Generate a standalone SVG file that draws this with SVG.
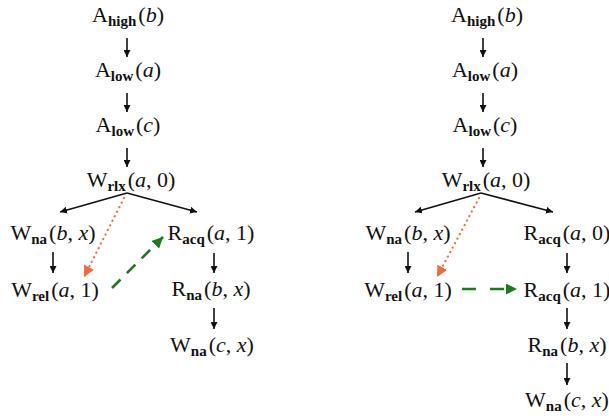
<svg xmlns="http://www.w3.org/2000/svg" width="609" height="416" viewBox="0 0 609 416">
<defs>
<style>
text{font-family:"Liberation Serif","DejaVu Serif",serif;font-size:22px;fill:#111;text-anchor:middle}
.s{font-weight:bold;font-size:15px}
.v{font-style:italic}
.e{stroke:#111;stroke-width:1.6;fill:none}
.rf{stroke:#f26b3a;stroke-width:2.2;fill:none;stroke-dasharray:0.1 5;stroke-linecap:round}
.sw{stroke:#1e7a1e;stroke-width:2.6;fill:none;stroke-dasharray:12 9}
</style>
<marker id="ah" viewBox="0 0 10 10" refX="10" refY="5" markerWidth="7" markerHeight="7" markerUnits="userSpaceOnUse" orient="auto"><path d="M0,0 L10,5 L0,10 z" fill="#111"/></marker>
<marker id="ao" viewBox="0 0 10 10" refX="10" refY="5" markerWidth="11" markerHeight="11" markerUnits="userSpaceOnUse" orient="auto"><path d="M0,0 L10,5 L0,10 z" fill="#f26b3a"/></marker>
<marker id="ag" viewBox="0 0 10 10" refX="10" refY="5" markerWidth="11" markerHeight="11" markerUnits="userSpaceOnUse" orient="auto"><path d="M0,0 L10,5 L0,10 z" fill="#1e7a1e"/></marker>
</defs>
<g id="L-ah"><text x="128" y="22">A<tspan class="s" dy="4">high</tspan><tspan dx="2" dy="-4">(</tspan><tspan class="v">b</tspan>)</text></g>
<g id="L-al1"><text x="128" y="77">A<tspan class="s" dy="4">low</tspan><tspan dx="2" dy="-4">(</tspan><tspan class="v">a</tspan>)</text></g>
<g id="L-al2"><text x="128" y="132">A<tspan class="s" dy="4">low</tspan><tspan dx="2" dy="-4">(</tspan><tspan class="v">c</tspan>)</text></g>
<g id="L-wrlx"><text x="131" y="187">W<tspan class="s" dy="4">rlx</tspan><tspan dx="2" dy="-4">(</tspan><tspan class="v">a</tspan>, 0)</text></g>
<g id="L-wna1"><text x="53" y="240">W<tspan class="s" dy="4">na</tspan><tspan dx="2" dy="-4">(</tspan><tspan class="v">b</tspan>, <tspan class="v">x</tspan>)</text></g>
<g id="L-wrel"><text x="55" y="297">W<tspan class="s" dy="4">rel</tspan><tspan dx="2" dy="-4">(</tspan><tspan class="v">a</tspan>, 1)</text></g>
<g id="L-racq"><text x="211" y="240">R<tspan class="s" dy="4">acq</tspan><tspan dx="2" dy="-4">(</tspan><tspan class="v">a</tspan>, 1)</text></g>
<g id="L-rna"><text x="211" y="296">R<tspan class="s" dy="4">na</tspan><tspan dx="2" dy="-4">(</tspan><tspan class="v">b</tspan>, <tspan class="v">x</tspan>)</text></g>
<g id="L-wna2"><text x="212" y="352">W<tspan class="s" dy="4">na</tspan><tspan dx="2" dy="-4">(</tspan><tspan class="v">c</tspan>, <tspan class="v">x</tspan>)</text></g>

<g id="R-ah"><text x="487" y="22">A<tspan class="s" dy="4">high</tspan><tspan dx="2" dy="-4">(</tspan><tspan class="v">b</tspan>)</text></g>
<g id="R-al1"><text x="485" y="77">A<tspan class="s" dy="4">low</tspan><tspan dx="2" dy="-4">(</tspan><tspan class="v">a</tspan>)</text></g>
<g id="R-al2"><text x="485" y="132">A<tspan class="s" dy="4">low</tspan><tspan dx="2" dy="-4">(</tspan><tspan class="v">c</tspan>)</text></g>
<g id="R-wrlx"><text x="486" y="187">W<tspan class="s" dy="4">rlx</tspan><tspan dx="2" dy="-4">(</tspan><tspan class="v">a</tspan>, 0)</text></g>
<g id="R-wna1"><text x="408" y="240">W<tspan class="s" dy="4">na</tspan><tspan dx="2" dy="-4">(</tspan><tspan class="v">b</tspan>, <tspan class="v">x</tspan>)</text></g>
<g id="R-wrel"><text x="408" y="297">W<tspan class="s" dy="4">rel</tspan><tspan dx="2" dy="-4">(</tspan><tspan class="v">a</tspan>, 1)</text></g>
<g id="R-racq0"><text x="567" y="240">R<tspan class="s" dy="4">acq</tspan><tspan dx="2" dy="-4">(</tspan><tspan class="v">a</tspan>, 0)</text></g>
<g id="R-racq1"><text x="567" y="297">R<tspan class="s" dy="4">acq</tspan><tspan dx="2" dy="-4">(</tspan><tspan class="v">a</tspan>, 1)</text></g>
<g id="R-rna"><text x="567" y="352">R<tspan class="s" dy="4">na</tspan><tspan dx="2" dy="-4">(</tspan><tspan class="v">b</tspan>, <tspan class="v">x</tspan>)</text></g>
<g id="R-wna2"><text x="567" y="407">W<tspan class="s" dy="4">na</tspan><tspan dx="2" dy="-4">(</tspan><tspan class="v">c</tspan>, <tspan class="v">x</tspan>)</text></g>

<g id="connectors">
<line class="e" x1="127" y1="38" x2="127" y2="57" marker-end="url(#ah)"/>
<line class="e" x1="127" y1="93" x2="127" y2="112" marker-end="url(#ah)"/>
<line class="e" x1="127" y1="148" x2="127" y2="167" marker-end="url(#ah)"/>
<line class="e" x1="127" y1="193" x2="60" y2="212" marker-end="url(#ah)"/>
<line class="e" x1="127" y1="193" x2="197" y2="212" marker-end="url(#ah)"/>
<line class="e" x1="53" y1="252" x2="53" y2="273" marker-end="url(#ah)"/>
<line class="e" x1="214" y1="253" x2="214" y2="273" marker-end="url(#ah)"/>
<line class="e" x1="214" y1="308" x2="214" y2="329" marker-end="url(#ah)"/>
<line class="rf" x1="124" y1="198" x2="84" y2="277" marker-end="url(#ao)"/>
<line class="sw" x1="112" y1="288" x2="163" y2="237" marker-end="url(#ag)"/>

<line class="e" x1="483" y1="38" x2="483" y2="57" marker-end="url(#ah)"/>
<line class="e" x1="483" y1="93" x2="483" y2="112" marker-end="url(#ah)"/>
<line class="e" x1="483" y1="148" x2="483" y2="167" marker-end="url(#ah)"/>
<line class="e" x1="481" y1="193" x2="415" y2="212" marker-end="url(#ah)"/>
<line class="e" x1="481" y1="193" x2="553" y2="212" marker-end="url(#ah)"/>
<line class="e" x1="408" y1="252" x2="408" y2="273" marker-end="url(#ah)"/>
<line class="e" x1="567" y1="253" x2="567" y2="273" marker-end="url(#ah)"/>
<line class="e" x1="567" y1="308" x2="567" y2="329" marker-end="url(#ah)"/>
<line class="e" x1="567" y1="363" x2="567" y2="385" marker-end="url(#ah)"/>
<line class="rf" x1="479" y1="198" x2="437" y2="277" marker-end="url(#ao)"/>
<line class="sw" x1="462" y1="289" x2="517" y2="289" style="stroke-dasharray:14 14" marker-end="url(#ag)"/>
</g>
</svg>
